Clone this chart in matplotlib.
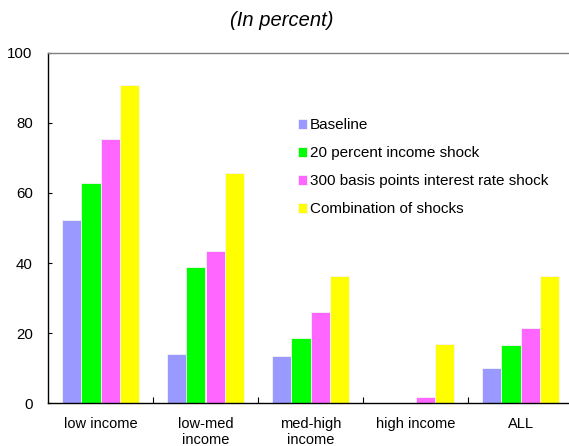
import matplotlib
matplotlib.use("Agg")
import matplotlib.pyplot as plt
import numpy as np

plt.rcParams['font.family'] = ['Liberation Sans', 'DejaVu Sans']

categories = ["low income", "low-med\nincome", "med-high\nincome", "high income", "ALL"]
series_names = ["Baseline", "20 percent income shock",
                "300 basis points interest rate shock", "Combination of shocks"]
baseline = [52.2, 14.1, 13.6, 0.0, 10.2]
income_shock = [62.8, 38.8, 18.5, 0.0, 16.5]
rate_shock = [75.3, 43.4, 26.0, 1.7, 21.5]
combined = [90.7, 65.6, 36.4, 16.9, 36.4]
colors = ["#9999FF", "#00FF00", "#FF66FF", "#FFFF00"]

fig = plt.figure(figsize=(5.69, 4.46), dpi=100)
ax = fig.add_axes([48 / 569, 42.7 / 446, 525 / 569, 350.6 / 446])

x = np.arange(len(categories))
n = 4
bw = 0.73 / n
for i, (vals, col, name) in enumerate(zip([baseline, income_shock, rate_shock, combined],
                                          colors, series_names)):
    offs = (i - (n - 1) / 2) * bw
    ax.bar(x + offs, vals, bw, color=col, edgecolor="#f4f4f4", linewidth=0.6,
           label=name)

ax.set_xlim(-0.5, len(categories) - 0.5)
ax.set_ylim(0, 100)
ax.set_yticks([0, 20, 40, 60, 80, 100])
ax.tick_params(axis="y", direction="in", length=3, width=0.8, labelsize=10.8, pad=11)
ax.set_xticks(x)
ax.set_xticklabels(categories, fontsize=10.5, linespacing=1.15)
ax.tick_params(axis="x", length=0, pad=10)
ax.set_xticks(np.arange(0.5, len(categories) - 0.5, 1), minor=True)
ax.tick_params(axis="x", which="minor", direction="in", length=4, width=0.8)

ax.spines["left"].set_linewidth(1.0)
ax.spines["bottom"].set_linewidth(1.0)
ax.spines["top"].set_color("#808080")
ax.spines["top"].set_linewidth(1.0)
ax.spines["right"].set_visible(False)

ax.legend(loc="upper left", bbox_to_anchor=(0.465, 0.83), frameon=False,
          fontsize=11, handlelength=0.6, handleheight=0.6, handletextpad=0.15,
          labelspacing=0.91, borderaxespad=0)

fig.text(282 / 569, 1 - 20 / 446, "(In percent)", ha="center", va="center",
         fontsize=14.5, fontstyle="italic")

fig.savefig("out.png", dpi=100)
